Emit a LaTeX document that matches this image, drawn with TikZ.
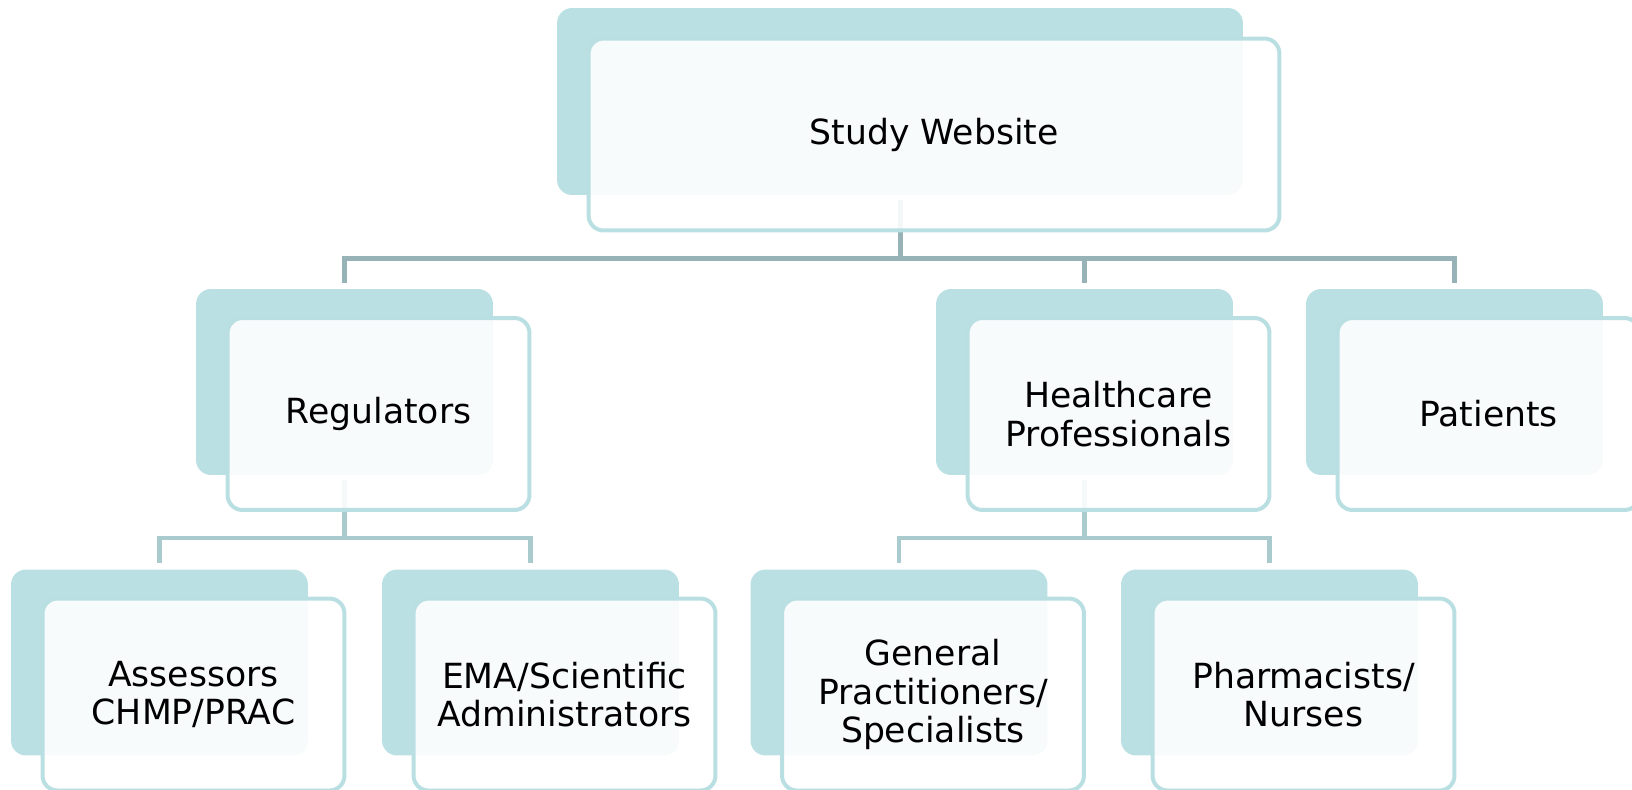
\documentclass[tikz,border=0pt]{standalone}
\usepackage{fontspec}
\setmainfont{DejaVu Sans}
\usetikzlibrary{positioning}
\definecolor{boxteal}{HTML}{BBE0E3}
\definecolor{boxedge}{HTML}{B9DFE2}
\definecolor{linktop}{HTML}{97B3B7}
\definecolor{linksub}{HTML}{A9CBCD}
\tikzset{
	backbox/.style={rectangle, rounded corners=0.3cm, fill=boxteal, inner sep=0pt,
		minimum width=5.94cm, minimum height=3.72cm},
	frontbox/.style={rectangle, rounded corners=0.3cm, draw=boxedge, line width=0.08cm,
		fill=white, fill opacity=0.9, text opacity=1, inner sep=0pt, align=center,
		minimum width=6.04cm, minimum height=3.84cm, font=\fontsize{19.7}{22}\selectfont},
	link/.style={linktop, line width=0.1cm},
	sublink/.style={linksub, line width=0.09cm}
}

\begin{document}
\begin{tikzpicture}[x=0.02cm, y=-0.02cm]
		\useasboundingbox (0,0) rectangle (1632,789);
		\clip (0,0) rectangle (1632,789);
		
		% Back plates
		\node[backbox, minimum width=13.72cm, minimum height=3.74cm] (webBack) at (900,101.5) {};
		\node[backbox] (regBack) at (344.5,382) {};
		\node[backbox] (hpBack)  at (1084.5,382) {};
		\node[backbox] (patBack) at (1454.5,382) {};
		\node[backbox] (assBack) at (159.5,662.5) {};
		\node[backbox] (emaBack) at (530.5,662.5) {};
		\node[backbox] (gpBack)  at (899,662.5) {};
		\node[backbox] (phaBack) at (1269.5,662.5) {};
		
		% Bar points
		\coordinate (topBar) at (900,258);
		\coordinate (regBar) at (344.5,538);
		\coordinate (hpBar)  at (1084.5,538);
		
		% Connectors
		\draw[link, shorten <=0.1cm] (webBack.south) -- (topBar);     % website stem
		\draw[link, shorten >=0.12cm] (topBar) -| (regBack.north);     % -> Regulators
		\draw[link, shorten >=0.12cm] (topBar) -| (hpBack.north);      % -> Healthcare
		\draw[link, shorten >=0.12cm] (topBar) -| (patBack.north);     % -> Patients
		
		\draw[sublink, shorten <=0.1cm] (regBack.south) -- (regBar);   % regulators stem
		\draw[sublink, shorten >=0.12cm] (regBar) -| (assBack.north);  % -> Assessors
		\draw[sublink, shorten >=0.12cm] (regBar) -| (emaBack.north);  % -> EMA
		
		\draw[sublink, shorten <=0.1cm] (hpBack.south) -- (hpBar);     % healthcare stem
		\draw[sublink, shorten >=0.12cm] (hpBar) -| (gpBack.north);    % -> GPs
		\draw[sublink, shorten >=0.12cm] (hpBar) -| (phaBack.north);   % -> Pharmacists
		
		% Front cards with text
		\node[frontbox, minimum width=13.82cm, minimum height=3.84cm] (web) at (934,134.5) {Study Website};
		\node[frontbox] (reg) at (378.5,414) {Regulators};
		\node[frontbox] (hp)  at (1118.5,414) {Healthcare\\Professionals};
		\node[frontbox] (pat) at (1488.5,414) {Patients};
		\node[frontbox] (ass) at (193.5,694.5) {Assessors\\CHMP/PRAC};
		\node[frontbox] (ema) at (564.5,694.5) {EMA/Scientific\\Administrators};
		\node[frontbox] (gp)  at (933,694.5) {General\\Practitioners/\\Specialists};
		\node[frontbox] (pha) at (1303.5,694.5) {Pharmacists/\\Nurses};
		
	\end{tikzpicture}
\end{document}
